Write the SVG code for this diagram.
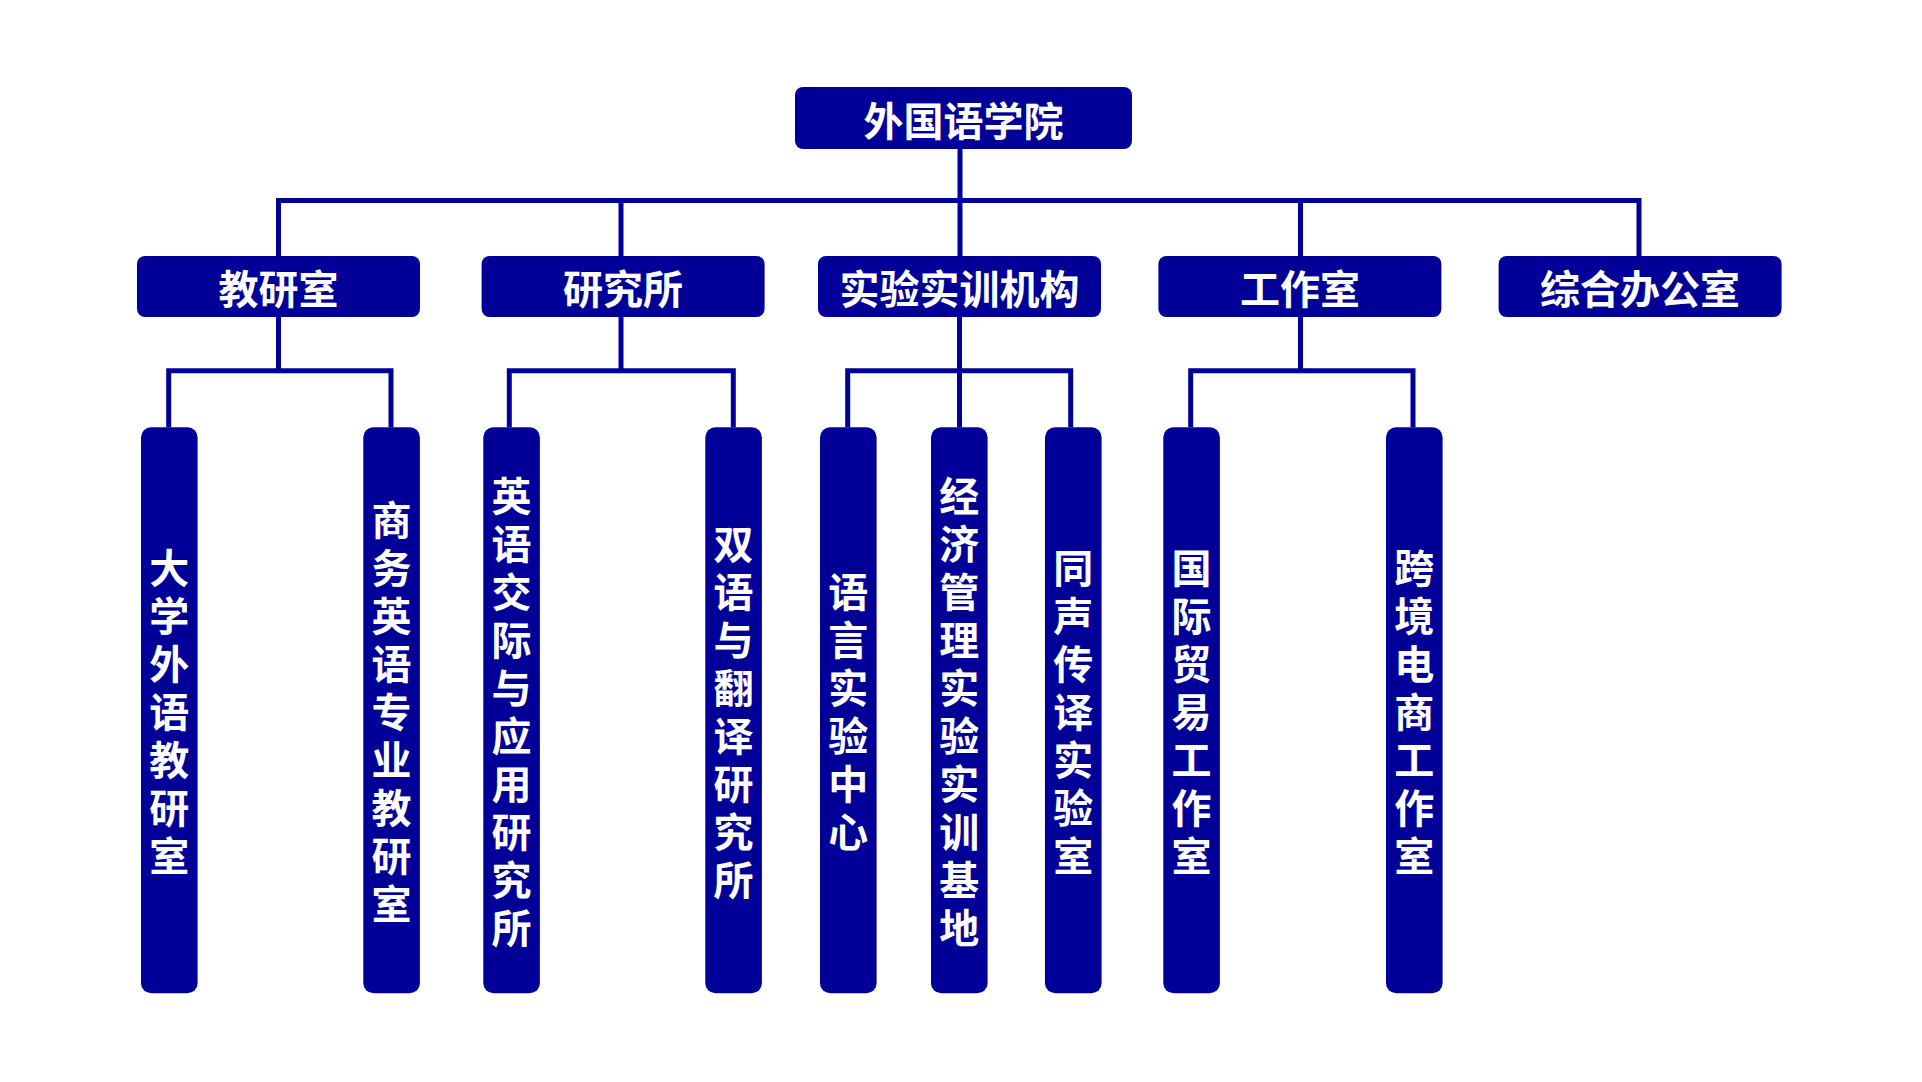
<svg xmlns="http://www.w3.org/2000/svg" width="1922" height="1082" viewBox="0 0 1922 1082">
<style>
.box{fill:#000099;}
.lbl{fill:#ffffff;font-family:"Noto Sans CJK SC","Noto Sans",sans-serif;font-size:40px;font-weight:bold;text-anchor:middle;dominant-baseline:central;}
.vt{writing-mode:vertical-rl;text-orientation:upright;letter-spacing:8px;}
.con{fill:none;stroke:#000099;stroke-width:5;stroke-linejoin:miter;stroke-linecap:butt;}
</style>
<rect width="1922" height="1082" fill="#ffffff"/>
<g id="connectors">
<path class="con" d="M960 149 V256"/>
<path class="con" d="M278.5 256 V200.5 H1639 V256"/>
<path class="con" d="M621 200.5 V256"/>
<path class="con" d="M1300.5 200.5 V256"/>
<path class="con" d="M278.5 317 V370.8"/>
<path class="con" d="M168.7 427.3 V370.8 H391 V427.3"/>
<path class="con" d="M621 317 V370.8"/>
<path class="con" d="M509.3 427.3 V370.8 H733.3 V427.3"/>
<path class="con" d="M959.5 317 V427.3"/>
<path class="con" d="M847.7 427.3 V370.8 H1070.7 V427.3"/>
<path class="con" d="M1300.5 317 V370.8"/>
<path class="con" d="M1190.7 427.3 V370.8 H1413 V427.3"/>
</g>
<g id="root">
<rect class="box" x="795" y="87" width="337" height="62" rx="8"/>
<text class="lbl" x="963.5" y="119">外国语学院</text>
</g>
<g id="n-jiaoyanshi">
<rect class="box" x="137" y="256" width="283" height="61" rx="8"/>
<text class="lbl" x="278.5" y="287">教研室</text>
</g>
<g id="n-yanjiusuo">
<rect class="box" x="481.6" y="256" width="283" height="61" rx="8"/>
<text class="lbl" x="623" y="287">研究所</text>
</g>
<g id="n-shiyan">
<rect class="box" x="818" y="256" width="283" height="61" rx="8"/>
<text class="lbl" x="959.5" y="287">实验实训机构</text>
</g>
<g id="n-gongzuoshi">
<rect class="box" x="1158.4" y="256" width="283" height="61" rx="8"/>
<text class="lbl" x="1300" y="287">工作室</text>
</g>
<g id="n-zonghe">
<rect class="box" x="1498.6" y="256" width="283" height="61" rx="8"/>
<text class="lbl" x="1640" y="287">综合办公室</text>
</g>
<g id="leaf1">
<rect class="box" x="141" y="427.3" width="56.6" height="566" rx="10"/>
<text class="lbl vt" x="169.3" y="716">大学外语教研室</text>
</g>
<g id="leaf2">
<rect class="box" x="363.3" y="427.3" width="56.6" height="566" rx="10"/>
<text class="lbl vt" x="391.6" y="716">商务英语专业教研室</text>
</g>
<g id="leaf3">
<rect class="box" x="483.3" y="427.3" width="56.6" height="566" rx="10"/>
<text class="lbl vt" x="511.6" y="716">英语交际与应用研究所</text>
</g>
<g id="leaf4">
<rect class="box" x="705.3" y="427.3" width="56.6" height="566" rx="10"/>
<text class="lbl vt" x="733.6" y="716">双语与翻译研究所</text>
</g>
<g id="leaf5">
<rect class="box" x="820" y="427.3" width="56.6" height="566" rx="10"/>
<text class="lbl vt" x="848.3" y="716">语言实验中心</text>
</g>
<g id="leaf6">
<rect class="box" x="931" y="427.3" width="56.6" height="566" rx="10"/>
<text class="lbl vt" x="959.3" y="716">经济管理实验实训基地</text>
</g>
<g id="leaf7">
<rect class="box" x="1045" y="427.3" width="56.6" height="566" rx="10"/>
<text class="lbl vt" x="1073.3" y="716">同声传译实验室</text>
</g>
<g id="leaf8">
<rect class="box" x="1163.3" y="427.3" width="56.6" height="566" rx="10"/>
<text class="lbl vt" x="1191.6" y="716">国际贸易工作室</text>
</g>
<g id="leaf9">
<rect class="box" x="1386" y="427.3" width="56.6" height="566" rx="10"/>
<text class="lbl vt" x="1414.3" y="716">跨境电商工作室</text>
</g>
</svg>
